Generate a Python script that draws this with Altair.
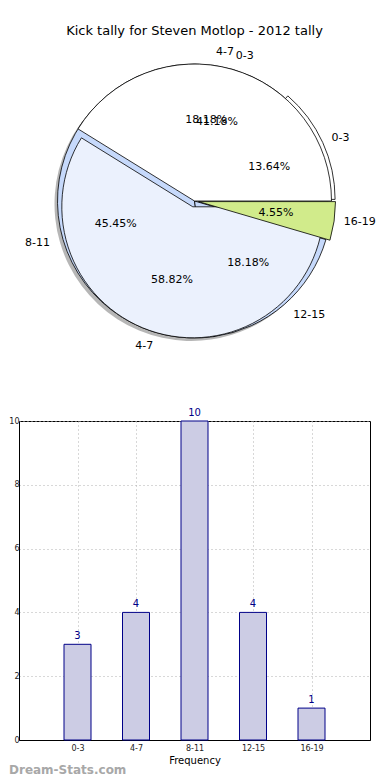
import math
import altair as alt
import pandas as pd

title_text = "Kick tally for Steven Motlop - 2012 tally"

# Current tally (pie 1 and bar chart)
cats = ["0-3", "4-7", "8-11", "12-15", "16-19"]
counts = [3, 4, 10, 4, 1]
pie1_colors = ["#ffffff", "#ffffff", "#c6d9fb", "#c6d9fb", "#d1eb8b"]

# Second (overlaid) tally
cats2 = ["0-3", "4-7"]
counts2 = [7, 10]
pie2_colors = ["#ffffff", "#ebf1fd"]

y_ticks = [0, 2, 4, 6, 8, 10]

FONT = "DejaVu Sans"
R = 137

df1 = pd.DataFrame({"cat": cats, "n": counts, "idx": list(range(len(cats)))})
df2 = pd.DataFrame({"cat": cats2, "n": counts2, "idx": list(range(len(cats2)))})

theta_scale = alt.Scale(domain=[0, 1], range=[2.5 * math.pi, 0.5 * math.pi])


def pie_base(df):
    return (
        alt.Chart(df)
        .transform_joinaggregate(total="sum(n)")
        .transform_window(cum="sum(n)", sort=[alt.SortField("idx")], frame=[None, 0])
        .transform_calculate(
            f0="(datum.cum - datum.n) / datum.total",
            f1="datum.cum / datum.total",
            fm="(datum.cum - datum.n / 2) / datum.total",
            pct="format(datum.n / datum.total * 100, '.2f') + '%'",
            side="cos(2 * PI * (datum.cum - datum.n / 2) / datum.total) >= 0 ? 'r' : 'l'",
        )
    )


b1 = pie_base(df1)
b2 = pie_base(df2)

arc_enc = dict(
    theta=alt.Theta("f0:Q", scale=theta_scale),
    theta2="f1:Q",
)
color1 = alt.Color("cat:N", scale=alt.Scale(domain=cats, range=pie1_colors), legend=None)

shadow = b1.mark_arc(radius=R, fill="#7a7a7a", opacity=0.55, xOffset=-3, yOffset=3).encode(**arc_enc)

p1_main = (
    b1.transform_filter("datum.cat != '0-3' && datum.cat != '16-19'")
    .mark_arc(radius=R, stroke="black", strokeWidth=0.8)
    .encode(color=color1, **arc_enc)
)
p1_first = (
    b1.transform_filter("datum.cat == '0-3'")
    .mark_arc(radius=R, stroke="black", strokeWidth=0.8, xOffset=3.6, yOffset=-1.6)
    .encode(color=color1, **arc_enc)
)
p2_a = (
    b2.transform_filter("datum.cat == '0-3'")
    .mark_arc(radius=R, stroke="black", strokeWidth=0.8, fill=pie2_colors[0])
    .encode(**arc_enc)
)
p2_b = (
    b2.transform_filter("datum.cat == '4-7'")
    .mark_arc(radius=R - 6, stroke="black", strokeWidth=0.8, fill=pie2_colors[1],
              xOffset=-1.7, yOffset=5.8)
    .encode(**arc_enc)
)
p1_last = (
    b1.transform_filter("datum.cat == '16-19'")
    .mark_arc(radius=R, stroke="black", strokeWidth=0.8, xOffset=4, yOffset=0.6)
    .encode(color=color1, **arc_enc)
)

mid_theta = alt.Theta("fm:Q", scale=theta_scale)
txt = dict(font=FONT, fontSize=11, color="black")

pct1 = b1.mark_text(radius=0.6 * R, **txt).encode(theta=mid_theta, text="pct:N")
pct2 = b2.mark_text(radius=0.6 * R, **txt).encode(theta=mid_theta, text="pct:N")
lab1r = b1.transform_filter("datum.side == 'r'").mark_text(radius=1.1 * R, align="left", **txt).encode(theta=mid_theta, text="cat:N")
lab1l = b1.transform_filter("datum.side == 'l'").mark_text(radius=1.1 * R, align="right", **txt).encode(theta=mid_theta, text="cat:N")
lab2r = b2.transform_filter("datum.side == 'r'").mark_text(radius=1.1 * R, align="left", **txt).encode(theta=mid_theta, text="cat:N")
lab2l = b2.transform_filter("datum.side == 'l'").mark_text(radius=1.1 * R, align="right", **txt).encode(theta=mid_theta, text="cat:N")

pie = alt.layer(
    shadow, p1_main, p1_first, p2_a, p2_b, p1_last,
    pct1, pct2, lab1r, lab1l, lab2r, lab2l,
).properties(
    width=351,
    height=318,
    title=alt.TitleParams(title_text, font=FONT, fontSize=13, fontWeight="normal",
                          anchor="middle", offset=4, color="black"),
    view=alt.ViewBackground(stroke=None),
)

bar_df = pd.DataFrame({"cat": cats, "n": counts})
bx = alt.X(
    "cat:N", sort=cats,
    scale=alt.Scale(type="point", padding=1),
    axis=alt.Axis(title="Frequency", labelAngle=0, grid=True, gridDash=[1, 3],
                  gridColor="#b0b0b0", ticks=False, labelFontSize=8, labelFont=FONT,
                  labelColor="#222", titleFont=FONT, titleFontSize=10, titleFontWeight="normal",
                  titlePadding=3, labelPadding=4, domainColor="black"),
)
by = alt.Y(
    "n:Q",
    scale=alt.Scale(domain=[0, 10], nice=False),
    axis=alt.Axis(values=y_ticks, title=None, grid=True, gridDash=[1, 3], gridColor="#b0b0b0",
                  ticks=False, labelFontSize=8, labelFont=FONT, labelColor="#222",
                  labelPadding=0, domainColor="black"),
)
bars = alt.Chart(bar_df).mark_bar(size=27, fill="#ccccE4", stroke="#000088", strokeWidth=1).encode(x=bx, y=by)
vals = alt.Chart(bar_df).mark_text(dy=-8, font=FONT, fontSize=10, color="#000088").encode(x=bx, y=by, text="n:Q")
mark_wm = alt.Chart(bar_df).transform_filter("datum.cat == '0-3'").mark_text(
    text="Dream-Stats.com", align="left", baseline="middle", font=FONT, fontSize=12,
    fontWeight="bold", color="#a8a8a8"
).encode(x=alt.value(-10), y=alt.value(349))

barchart = alt.layer(bars, vals, mark_wm).properties(
    width=351, height=319,
    view=alt.ViewBackground(stroke="black", strokeWidth=1),
)

chart = alt.vconcat(pie, barchart, spacing=47).properties(
    padding={"left": 0, "top": 17, "right": 0, "bottom": 0}
).configure_view(stroke=None)

chart.save("out.html", embed_options={"renderer": "svg", "actions": False})
